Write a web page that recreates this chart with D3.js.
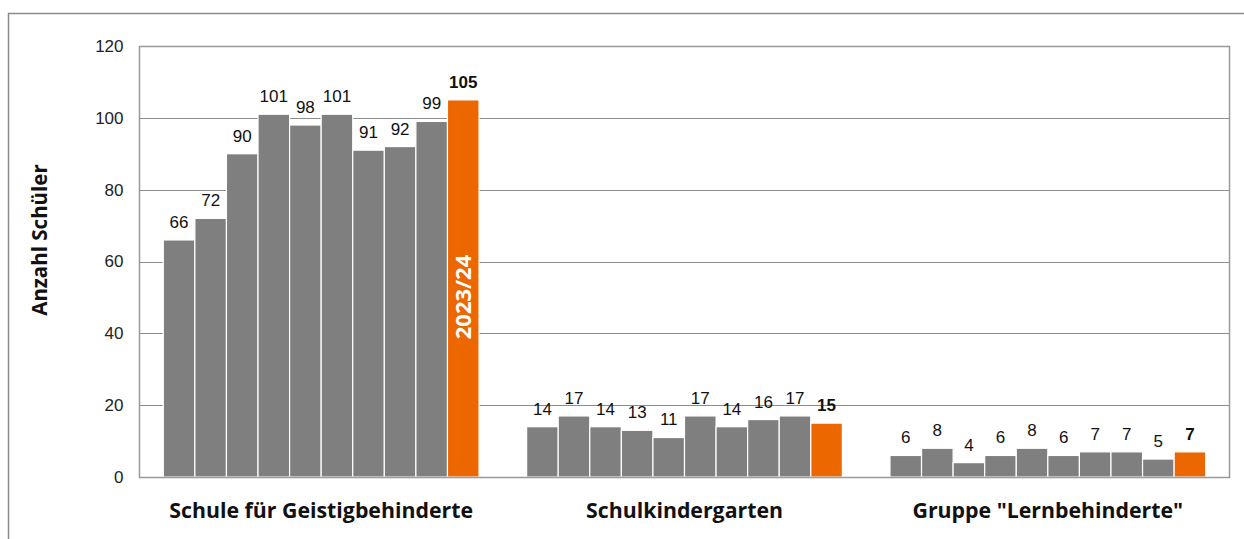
<!DOCTYPE html>
<html><head><meta charset="utf-8">
<script src="https://cdn.jsdelivr.net/npm/d3@7"></script>
<style>html,body{margin:0;padding:0;background:#fff;}svg{display:block;}</style>
</head><body>
<svg id="chart" width="1244" height="539"></svg>
<script>
const categories = ["Schule für Geistigbehinderte", "Schulkindergarten", "Gruppe \"Lernbehinderte\""];
const years = ["2014/15","2015/16","2016/17","2017/18","2018/19","2019/20","2020/21","2021/22","2022/23","2023/24"];
const geistig = [66, 72, 90, 101, 98, 101, 91, 92, 99, 105];
const kindergarten = [14, 17, 14, 13, 11, 17, 14, 16, 17, 15];
const lern = [6, 8, 4, 6, 8, 6, 7, 7, 5, 7];
const yTicks = [0, 20, 40, 60, 80, 100, 120];
const yTitle = "Anzahl Schüler";

const seriesByCat = [geistig, kindergarten, lern];
const rows = [];
categories.forEach((c, ci) => years.forEach((y, yi) => rows.push({cat: c, year: y, value: seriesByCat[ci][yi], last: yi === years.length - 1})));

const svg = d3.select("#chart");
const L = 139.5, R = 1229.5, T = 46, B = 477;
const gray = "#7f7f7f", orange = "#ed6700", lineC = "#8c8c8c";

// outer frame (cut off)
svg.append("path").attr("d", "M8.5,539 V13.5 H1244").attr("fill", "none").attr("stroke", "#8a8a8a").attr("stroke-width", 1.5);

const y = d3.scaleLinear().domain([0, 120]).range([B, T]);
const x0 = d3.scaleBand().domain(categories).range([L, R]).paddingInner(0.131).paddingOuter(0.0655);
const x1 = d3.scaleBand().domain(years).range([0, x0.bandwidth()]).padding(0);

// gridlines
svg.append("g").selectAll("line").data(yTicks).join("line")
  .attr("x1", L).attr("x2", R).attr("y1", d => Math.round(y(d)) + 0.5).attr("y2", d => Math.round(y(d)) + 0.5)
  .attr("stroke", lineC).attr("stroke-width", 1);

// y axis labels
const yAxis = d3.axisLeft(y).tickValues(yTicks).tickSize(0).tickPadding(16);
const ga = svg.append("g").attr("transform", `translate(${L},0)`).call(yAxis);
ga.select(".domain").remove();
ga.selectAll("text").attr("font-family", "Liberation Sans, Arial, sans-serif").attr("font-size", 17).attr("fill", "#222");

// bars
svg.append("g").selectAll("rect").data(rows).join("rect")
  .attr("x", d => x0(d.cat) + x1(d.year))
  .attr("y", d => y(d.value))
  .attr("width", x1.bandwidth())
  .attr("height", d => B - y(d.value))
  .attr("fill", d => d.last ? orange : gray)
  .attr("stroke", "#fff").attr("stroke-width", 1.2);

// value labels
svg.append("g").selectAll("text").data(rows).join("text")
  .attr("x", d => x0(d.cat) + x1(d.year) + x1.bandwidth() / 2)
  .attr("y", d => y(d.value) - 12)
  .attr("text-anchor", "middle")
  .attr("font-family", "Liberation Sans, Arial, sans-serif")
  .attr("font-size", 17)
  .attr("font-weight", d => d.last ? "bold" : "normal")
  .attr("fill", "#111")
  .text(d => d.value);

// year label in highlighted bar
const lastX = x0(categories[0]) + x1(years[years.length - 1]) + x1.bandwidth() / 2;
svg.append("text")
  .attr("transform", `translate(${lastX + 8},${297}) rotate(-90)`)
  .attr("text-anchor", "middle")
  .attr("font-family", "Open Sans, sans-serif").attr("font-weight", "bold").attr("font-size", 22)
  .attr("fill", "#fff")
  .text(years[years.length - 1]);

// plot border
svg.append("rect").attr("x", L).attr("y", T + 0.5).attr("width", R - L).attr("height", B - T)
  .attr("fill", "none").attr("stroke", "#999").attr("stroke-width", 1.5);

// category labels
svg.append("g").selectAll("text").data(categories).join("text")
  .attr("x", d => x0(d) + x0.bandwidth() / 2)
  .attr("y", 518)
  .attr("text-anchor", "middle")
  .attr("font-family", "Open Sans, sans-serif").attr("font-weight", "bold").attr("font-size", 21.3)
  .attr("fill", "#111")
  .text(d => d);

// y title
svg.append("text")
  .attr("transform", `translate(47,240) rotate(-90)`)
  .attr("text-anchor", "middle")
  .attr("font-family", "Open Sans, sans-serif").attr("font-weight", "bold").attr("font-size", 20.5)
  .attr("fill", "#111")
  .text(yTitle);
</script>
</body></html>
